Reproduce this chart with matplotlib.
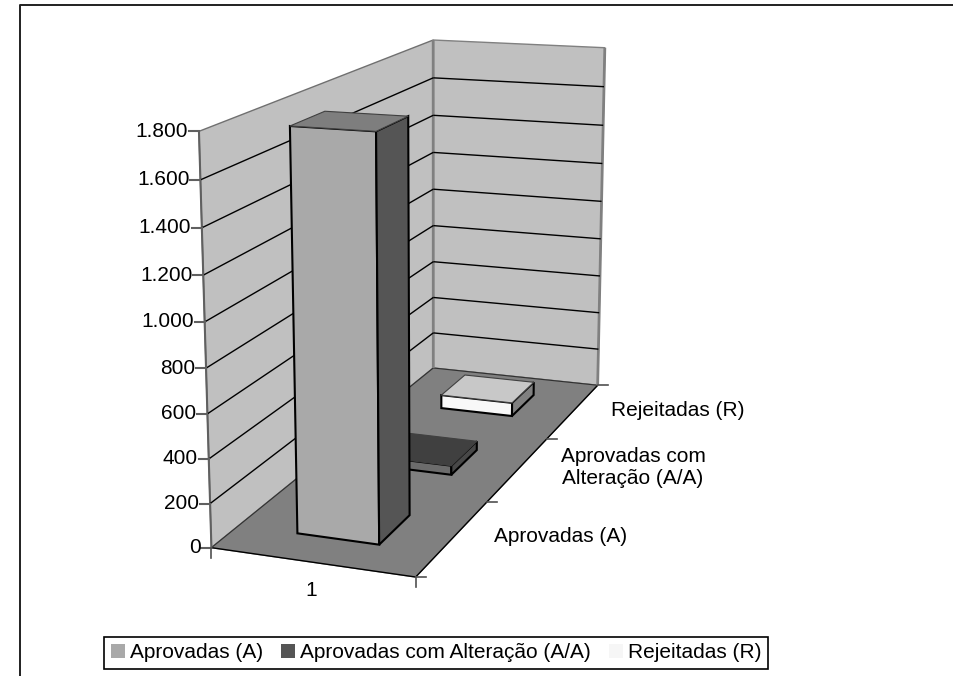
import numpy as np
import matplotlib
matplotlib.use('Agg')
import matplotlib.pyplot as plt
from matplotlib.patches import Patch

plt.rcParams['font.family'] = ['Liberation Sans', 'DejaVu Sans']

series = ['Aprovadas (A)', 'Aprovadas com Alteração (A/A)', 'Rejeitadas (R)']
depth_labels = ['Aprovadas (A)', 'Aprovadas com\nAlteração (A/A)', 'Rejeitadas (R)']
values = [1790, 45, 70]
ticks = [0, 200, 400, 600, 800, 1000, 1200, 1400, 1600, 1800]
tick_labels = ['0', '200', '400', '600', '800', '1.000', '1.200', '1.400', '1.600', '1.800']
vmax = 1800

front = ['#a9a9a9', '#6c6c6c', '#f8f8f8']
top = ['#7e7e7e', '#404040', '#c8c8c8']
side = ['#555555', '#484848', '#808080']
legend_colors = ['#a9a9a9', '#555555', '#f6f6f6']

# box corners in the picture, used to fit the perspective of the chart
box = [(0, 0, 0), (1, 0, 0), (0, 1, 0), (1, 1, 0), (0, 0, 1), (0, 1, 1), (1, 1, 1)]
pix = [(212, 548), (415, 577), (433, 368), (598, 385), (199, 131), (433, 40), (605, 48)]


def fit_camera(box, pix):
    rows = []
    for (x, y, z), (u, v) in zip(box, pix):
        rows.append([x, y, z, 1, 0, 0, 0, 0, -u*x, -u*y, -u*z, -u])
        rows.append([0, 0, 0, 0, x, y, z, 1, -v*x, -v*y, -v*z, -v])
    return np.linalg.svd(np.array(rows, float))[2][-1].reshape(3, 4)


cam = fit_camera(box, pix)


def pr(x, y, v):
    p = cam @ np.array([x, y, v/vmax, 1.0])
    return p[0]/p[2], p[1]/p[2]


def face(ax, pts, color, ec='black', lw=1.0, z=1):
    xy = [pr(*p) for p in pts]
    ax.fill([a for a, b in xy], [b for a, b in xy], fc=color, ec=ec, lw=lw, zorder=z)


def seg(ax, p, q, color='black', lw=1.0):
    a, b = pr(*p), pr(*q)
    ax.plot([a[0], b[0]], [a[1], b[1]], color=color, lw=lw, solid_capstyle='butt')


fig = plt.figure(figsize=(9.54, 6.76), dpi=100)
ax = fig.add_axes([0, 0, 1, 1])
ax.set_xlim(0, 954)
ax.set_ylim(676, 0)
ax.axis('off')

# outer frame: only top and left show, the image crops the rest
ax.plot([20, 20, 954], [676, 5, 5], color='#202020', lw=1.4)

# walls and floor
face(ax, [(0, 0, 0), (0, 1, 0), (0, 1, vmax), (0, 0, vmax)], '#c0c0c0', ec='#707070')
face(ax, [(0, 1, 0), (1, 1, 0), (1, 1, vmax), (0, 1, vmax)], '#c0c0c0', ec='#808080')
face(ax, [(0, 0, 0), (1, 0, 0), (1, 1, 0), (0, 1, 0)], '#808080', ec='#808080')
seg(ax, (0, 0, 0), (1, 0, 0))
seg(ax, (1, 0, 0), (1, 1, 0))
seg(ax, (0, 0, 0), (0, 1, 0), '#303030', 0.8)
seg(ax, (0, 1, 0), (1, 1, 0), '#303030', 0.8)
seg(ax, (0, 1, 0), (0, 1, vmax), '#808080', 2)
seg(ax, (1, 1, 0), (1, 1, vmax), '#808080', 2)
seg(ax, (0, 0, 0), (0, 0, vmax), '#606060', 1.5)

for t in ticks[1:-1]:
    seg(ax, (0, 0, t), (0, 1, t))
    seg(ax, (0, 1, t), (1, 1, t))

# value axis
for t, lab in zip(ticks, tick_labels):
    x, y = pr(0, 0, t)
    ax.plot([x-10, x], [y, y], color='#606060', lw=1.5)
    ax.text(x-11, y, lab, ha='right', va='center', fontsize=15)

# category and depth axes
for c in [0, 1]:
    x, y = pr(c, 0, 0)
    ax.plot([x, x], [y, y+10], color='#505050', lw=1.2)
ax.text(311, 590, '1', ha='center', va='center', fontsize=15)
for i in range(len(series)+1):
    x, y = pr(1, i/3, 0)
    ax.plot([x, x+10], [y, y], color='#505050', lw=1.2)
label_pos = [(561, 537), (633, 468), (678, 411)]
for lab, (x, y) in zip(depth_labels, label_pos):
    ax.text(x, y, lab, ha='center', va='center', fontsize=15, linespacing=1.2)

# bars, back to front
x0, x1 = 0.30, 0.71
for i in [2, 1, 0]:
    y0, y1 = (i+0.3)/3, (i+0.7)/3
    v = values[i]
    z = 5 - i
    face(ax, [(x0, y0, 0), (x1, y0, 0), (x1, y0, v), (x0, y0, v)], front[i], lw=1.5, z=z)
    face(ax, [(x1, y0, 0), (x1, y1, 0), (x1, y1, v), (x1, y0, v)], side[i], lw=1.5, z=z)
    face(ax, [(x0, y0, v), (x1, y0, v), (x1, y1, v), (x0, y1, v)], top[i], ec='#404040', lw=0.8, z=z)

handles = [Patch(fc=c, ec='none') for c in legend_colors]
leg = ax.legend(handles, series, ncol=3, loc='lower left', bbox_to_anchor=(104, 669),
                bbox_transform=ax.transData, fontsize=15, frameon=True, fancybox=False,
                edgecolor='black', framealpha=1, handlelength=0.67, handleheight=0.65,
                handletextpad=0.26, columnspacing=0.85, borderpad=0.32, borderaxespad=0)
leg.get_frame().set_linewidth(1.2)

fig.savefig('out.png', dpi=100)
